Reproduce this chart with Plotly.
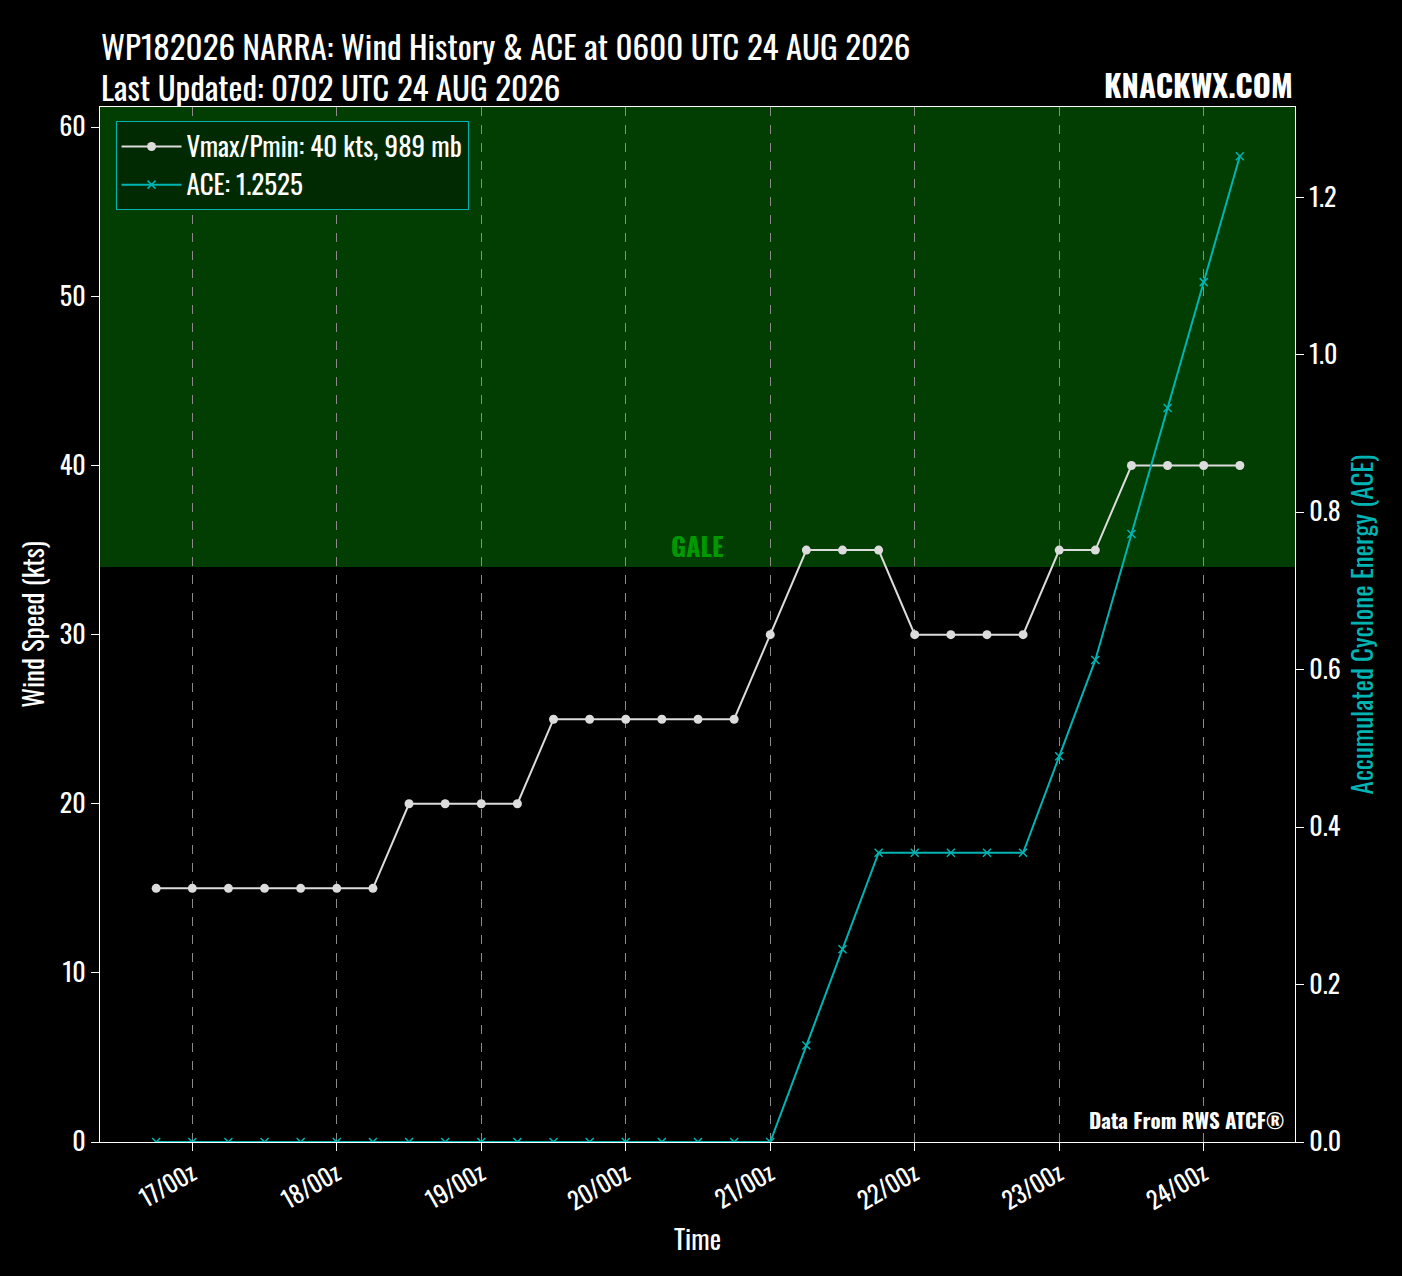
"""
wind_ace.py — storm wind history and accumulated cyclone energy, dark style.
"""
import plotly.graph_objects as go


FONT      = "Oswald, 'Liberation Sans Narrow', 'DejaVu Sans Condensed', sans-serif"
BG        = "#000000"
GALE_BG   = "#023d02"
TEAL      = "#00b4b4"
WIND_CLR  = "#dcdcdc"
TEXT      = "#ffffff"

# 6-hourly best track times (UTC)
times = [
    "2026-08-16 18:00", "2026-08-17 00:00", "2026-08-17 06:00", "2026-08-17 12:00",
    "2026-08-17 18:00", "2026-08-18 00:00", "2026-08-18 06:00", "2026-08-18 12:00",
    "2026-08-18 18:00", "2026-08-19 00:00", "2026-08-19 06:00", "2026-08-19 12:00",
    "2026-08-19 18:00", "2026-08-20 00:00", "2026-08-20 06:00", "2026-08-20 12:00",
    "2026-08-20 18:00", "2026-08-21 00:00", "2026-08-21 06:00", "2026-08-21 12:00",
    "2026-08-21 18:00", "2026-08-22 00:00", "2026-08-22 06:00", "2026-08-22 12:00",
    "2026-08-22 18:00", "2026-08-23 00:00", "2026-08-23 06:00", "2026-08-23 12:00",
    "2026-08-23 18:00", "2026-08-24 00:00", "2026-08-24 06:00",
]
vmax = [15, 15, 15, 15, 15, 15, 15, 20, 20, 20, 20, 25, 25, 25, 25, 25,
        25, 30, 35, 35, 35, 30, 30, 30, 30, 35, 35, 40, 40, 40, 40]
ace = [0, 0, 0, 0, 0, 0, 0, 0, 0, 0, 0, 0, 0, 0, 0, 0, 0, 0,
       0.1225, 0.245, 0.3675, 0.3675, 0.3675, 0.3675, 0.3675,
       0.49, 0.6125, 0.7725, 0.9325, 1.0925, 1.2525]

tick_vals = ["2026-08-17", "2026-08-18", "2026-08-19", "2026-08-20",
             "2026-08-21", "2026-08-22", "2026-08-23", "2026-08-24"]
tick_text = ["17/00z", "18/00z", "19/00z", "20/00z",
             "21/00z", "22/00z", "23/00z", "24/00z"]

GALE_KT = 34
Y_MAX   = 61.2
ACE_MAX = 1.315

fig = go.Figure()

# Gale-force band
fig.add_shape(
    type="rect", xref="paper", yref="y",
    x0=0, x1=1, y0=GALE_KT, y1=Y_MAX,
    fillcolor=GALE_BG, line=dict(width=0), layer="between",
)

fig.add_trace(go.Scatter(
    x=times, y=vmax,
    mode="lines+markers",
    line=dict(color=WIND_CLR, width=2),
    marker=dict(color=WIND_CLR, size=9, symbol="circle"),
    name="Vmax/Pmin: 40 kts, 989 mb",
))
fig.add_trace(go.Scatter(
    x=times, y=ace, yaxis="y2",
    mode="lines+markers",
    line=dict(color=TEAL, width=2),
    marker=dict(size=8, symbol="x-thin", line=dict(color=TEAL, width=1.5)),
    name="ACE: 1.2525",
))

fig.add_annotation(
    text="<b>GALE</b>", xref="paper", yref="y", x=0.5, y=GALE_KT,
    yanchor="bottom", showarrow=False,
    font=dict(family=FONT, size=26, color="#009a00"),
)
# two title lines, kept separate (fixed box height) so spacing matches
fig.add_annotation(
    text="WP182026 NARRA: Wind History & ACE at 0600 UTC 24 AUG 2026",
    xref="paper", yref="paper", x=0, y=1, xanchor="left", yanchor="bottom",
    xshift=-1, yshift=40, height=40, showarrow=False,
    font=dict(family=FONT, size=33, color=TEXT),
)
fig.add_annotation(
    text="Last Updated: 0702 UTC 24 AUG 2026",
    xref="paper", yref="paper", x=0, y=1, xanchor="left", yanchor="bottom",
    xshift=-1, yshift=-1, height=40, showarrow=False,
    font=dict(family=FONT, size=33, color=TEXT),
)
fig.add_annotation(
    text="<b>KNACKWX.COM</b>", xref="paper", yref="paper", x=1, y=1,
    xanchor="right", yanchor="bottom", yshift=-2, showarrow=False,
    font=dict(family=FONT, size=31, color=TEXT),
)
fig.add_annotation(
    text="<b>Data From RWS ATCF®</b>", xref="paper", yref="paper", x=0.993, y=0.005,
    xanchor="right", yanchor="bottom", showarrow=False,
    font=dict(family=FONT, size=21, color=TEXT),
)

fig.update_layout(
    width=1402, height=1276,
    paper_bgcolor=BG, plot_bgcolor=BG,
    font=dict(family=FONT, color=TEXT, size=26),
    margin=dict(l=100, r=107, t=107, b=134),
    showlegend=True,
    legend=dict(
        x=0.013, y=0.986, xanchor="left", yanchor="top",
        bgcolor="#022a02", bordercolor=TEAL, borderwidth=1,
        itemwidth=60, tracegroupgap=4,
        font=dict(family=FONT, size=27, color=TEXT),
    ),
    xaxis=dict(
        range=["2026-08-16 08:40", "2026-08-24 15:10"],
        tickvals=tick_vals, ticktext=tick_text, tickangle=-30,
        tickfont=dict(size=24),
        showgrid=True, gridcolor="#8a8a8a", griddash="dash", gridwidth=1,
        showline=True, linecolor=TEXT, linewidth=1.2, mirror=True,
        ticks="outside", tickcolor=TEXT, ticklen=8,
        title=dict(text="Time", font=dict(size=27), standoff=14),
        zeroline=False,
    ),
    yaxis=dict(
        range=[0, Y_MAX], tickvals=[0, 10, 20, 30, 40, 50, 60],
        showgrid=False, zeroline=False,
        showline=True, linecolor=TEXT, linewidth=1.2, mirror=True,
        ticks="outside", tickcolor=TEXT, ticklen=8,
        title=dict(text="Wind Speed (kts)", font=dict(size=27), standoff=6),
    ),
    yaxis2=dict(
        range=[0, ACE_MAX], overlaying="y", side="right",
        tickvals=[0, 0.2, 0.4, 0.6, 0.8, 1.0, 1.2], tickformat=".1f",
        showgrid=False, zeroline=False,
        showline=True, linecolor=TEXT, linewidth=1.2,
        ticks="outside", tickcolor=TEXT, ticklen=8,
        title=dict(text="Accumulated Cyclone Energy (ACE)",
                   font=dict(size=27, color=TEAL), standoff=8),
    ),
)

fig.write_html("out.html", config={"displayModeBar": False},
               post_script="document.body.style.margin='0';")
